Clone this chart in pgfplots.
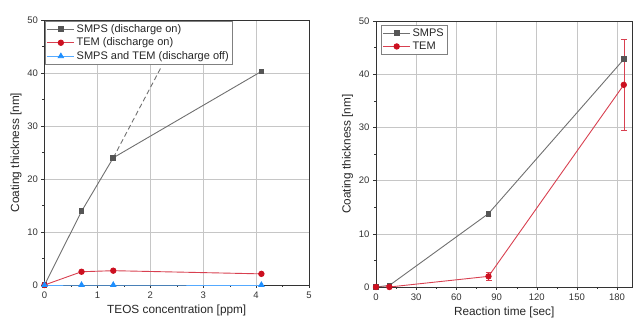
\documentclass[border=0pt]{standalone}
\usepackage{pgfplots}
\pgfplotsset{compat=1.18}
\usepackage{fontspec}
\setmainfont{Liberation Sans}
\definecolor{sgray}{HTML}{555555}
\definecolor{lgray}{HTML}{707070}
\definecolor{tred}{HTML}{CC1020}
\definecolor{lred}{HTML}{D84050}
\definecolor{tblue}{HTML}{1E8FFF}
\definecolor{lblue}{HTML}{55AAFF}
\pgfplotsset{
  myaxis/.style={
    scale only axis,
    /pgf/number format/assume math mode=true,
    tick align=outside, tick pos=left,
    major tick length=3pt, minor tick length=2pt,
    grid=major, grid style={gray!45, line width=0.5pt},
    axis line style={black!80, line width=0.7pt},
    tick style={black!80},
    ticklabel style={font=\fontsize{9.5}{11}\selectfont, text=black!80},
    label style={font=\fontsize{11.8}{14}\selectfont, text=black!85},
    legend style={font=\fontsize{11}{13}\selectfont, draw=black!50, line width=0.5pt,
      inner sep=1.5pt, row sep=0pt, text=black!85},
    legend cell align=left,
    legend image code/.code={\draw[mark repeat=2,mark phase=2] plot coordinates {(0cm,0cm) (0.47cm,0cm) (0.94cm,0cm)};},
  }
}
\begin{document}
\begin{tikzpicture}
\path (0pt,0pt) (633pt,323pt);
\begin{axis}[myaxis,
  at={(44.5pt,38pt)}, anchor=south west,
  width=264.5pt, height=265pt,
  xmin=0, xmax=5, ymin=0, ymax=50,
  xtick={0,1,2,3,4,5}, ytick={0,10,20,30,40,50},
  minor xtick={0.5,1.5,2.5,3.5,4.5}, minor ytick={5,15,25,35,45},
  xlabel={TEOS concentration [ppm]}, ylabel={Coating thickness [nm]},
  xlabel style={yshift=0pt}, ylabel style={yshift=-1pt},
  legend style={at={(0.003,0.997)}, anchor=north west},
  clip=false,
]
\addplot[lgray, line width=0.9pt, mark=square*, mark size=2.4pt, mark options={fill=sgray, draw=sgray}]
  coordinates {(0,0) (0.7,13.9) (1.3,24.0) (4.1,40.3)};
\addlegendentry{SMPS (discharge on)}
\addplot[lred, line width=0.9pt, mark=*, mark size=2.7pt, mark options={fill=tred, draw=tred}]
  coordinates {(0,0) (0.7,2.5) (1.3,2.7) (4.1,2.1)};
\addlegendentry{TEM (discharge on)}
\addplot[lblue, line width=0.9pt, mark=triangle*, mark size=3pt, mark options={fill=tblue, draw=tblue}]
  coordinates {(0,0) (0.7,0) (1.3,0) (4.1,0)};
\addlegendentry{SMPS and TEM (discharge off)}
\addplot[lgray, line width=0.9pt, dashed, dash pattern=on 5pt off 3pt, forget plot]
  coordinates {(1.3,24.0) (2.2,41.0)};
\end{axis}
\begin{axis}[myaxis,
  at={(376pt,36pt)}, anchor=south west,
  width=256.5pt, height=266pt,
  xmin=0, xmax=191.5, ymin=0, ymax=50,
  xtick={0,30,60,90,120,150,180}, ytick={0,10,20,30,40,50},
  minor xtick={15,45,75,105,135,165}, minor ytick={5,15,25,35,45},
  xlabel={Reaction time [sec]}, ylabel={Coating thickness [nm]},
  xlabel style={yshift=0pt}, ylabel style={yshift=-1pt},
  legend style={at={(0.02,0.985)}, anchor=north west},
]
\addplot[lgray, line width=0.9pt, mark=square*, mark size=2.4pt, mark options={fill=sgray, draw=sgray}]
  coordinates {(0,0) (10,0.3) (84,13.8) (185,42.8)};
\addlegendentry{SMPS}
\addplot[lred, line width=0.9pt, mark=*, mark size=2.7pt, mark options={fill=tred, draw=tred},
  error bars/.cd, y dir=both, y explicit,
  error bar style={lred, line width=0.5pt}, error mark options={rotate=90, mark size=3pt, lred}]
  coordinates {(0,0) +- (0,0.2) (10,0) +- (0,0.3) (84,2.0) +- (0,0.8) (185,38.0) +- (0,8.5)};
\addlegendentry{TEM}
\end{axis}
\end{tikzpicture}
\end{document}
